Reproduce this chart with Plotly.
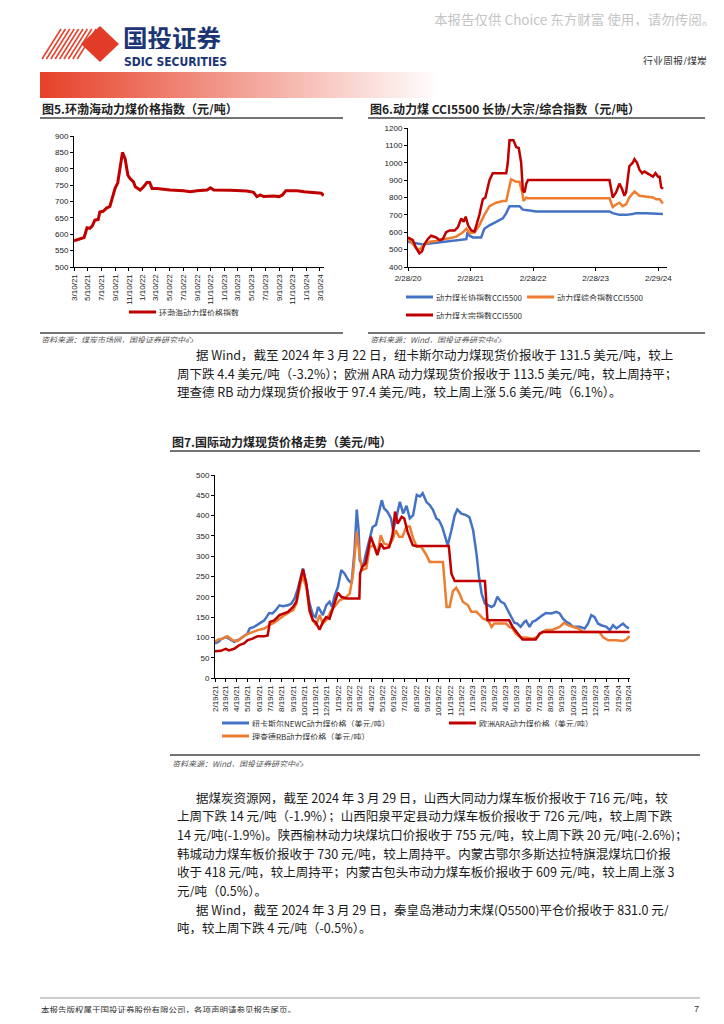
import plotly.graph_objects as go
from datetime import datetime

W, H = 724, 1024
OFF = 8  # page body margin of the browser

# ---------------- DATA ----------------
# Fig 5: Bohai-Rim thermal coal price index (yuan/t)
bohai_dates = ["2021-03-10", "2021-04-05", "2021-04-24", "2021-05-07", "2021-05-19", "2021-05-30",
               "2021-06-11", "2021-06-26", "2021-07-03", "2021-07-18", "2021-08-02", "2021-08-17",
               "2021-08-29", "2021-09-09", "2021-09-21", "2021-10-01", "2021-10-12", "2021-10-24",
               "2021-11-05", "2021-11-15", "2021-11-30", "2021-12-08", "2021-12-30", "2022-01-14",
               "2022-01-29", "2022-02-10", "2022-02-21", "2022-03-13", "2022-05-12", "2022-07-11",
               "2022-08-10", "2022-09-09", "2022-10-24", "2022-11-08", "2022-11-23", "2023-02-06",
               "2023-04-19", "2023-05-19", "2023-06-03", "2023-06-18", "2023-07-03", "2023-08-17",
               "2023-09-10", "2023-09-25", "2023-10-10", "2023-10-31", "2023-11-30", "2023-12-30",
               "2024-01-30", "2024-02-28", "2024-03-16", "2024-03-27"]
bohai_values = [580, 585, 590, 620, 618, 625, 643, 645, 668, 670, 680, 685,
                710, 740, 757, 800, 850, 830, 780, 770, 760, 745, 735, 745,
                758, 758, 740, 740, 735, 733, 730, 733, 735, 742, 735, 734,
                732, 728, 715, 720, 715, 717, 715, 720, 733, 733, 733, 730,
                728, 728, 725, 718]
bohai_ticks = ["3/10/21", "5/10/21", "7/10/21", "9/10/21", "11/10/21", "1/10/22", "3/10/22",
               "5/10/22", "7/10/22", "9/10/22", "11/10/22", "1/10/23", "3/10/23", "5/10/23",
               "7/10/23", "9/10/23", "11/10/23", "1/10/24", "3/10/24"]
bohai_name = "环渤海动力煤价格指数"

# Fig 6: CCI5500 long-term / composite / spot (yuan/t)
cci_long_dates = ["2020-02-28", "2020-04-15", "2020-05-24", "2020-07-03", "2020-08-10", "2020-09-18",
                  "2020-10-28", "2020-12-06", "2021-01-14", "2021-02-03", "2021-02-09", "2021-02-22",
                  "2021-03-13", "2021-04-01", "2021-04-30", "2021-05-19", "2021-06-18", "2021-07-27",
                  "2021-09-04", "2021-09-24", "2021-10-13", "2021-12-10", "2021-12-30", "2022-02-08",
                  "2022-03-17", "2023-05-20", "2023-06-08", "2023-07-17", "2023-08-25", "2023-10-03",
                  "2023-10-22", "2023-12-20", "2024-02-17", "2024-03-27"]
cci_long_values = [545, 535, 530, 535, 540, 545, 550, 555, 560, 560, 600, 580,
                   570, 570, 570, 620, 640, 660, 680, 710, 750, 750, 730, 725,
                   720, 720, 710, 700, 700, 705, 710, 710, 708, 705]
cci_comp_dates = ["2020-02-28", "2020-04-15", "2020-05-05", "2020-06-03", "2020-07-03", "2020-08-10",
                  "2020-09-18", "2020-10-28", "2020-12-06", "2021-01-14", "2021-02-03", "2021-02-22",
                  "2021-03-23", "2021-04-20", "2021-05-19", "2021-06-18", "2021-07-27", "2021-09-04",
                  "2021-09-24", "2021-10-13", "2021-10-22", "2021-11-21", "2021-12-10", "2021-12-26",
                  "2022-01-03", "2022-01-19", "2022-01-29", "2023-05-20", "2023-06-08", "2023-06-28",
                  "2023-07-17", "2023-08-05", "2023-08-25", "2023-09-13", "2023-10-13", "2023-11-11",
                  "2023-12-20", "2024-01-29", "2024-02-17", "2024-03-08", "2024-03-27"]
cci_comp_values = [565, 510, 500, 530, 545, 550, 560, 565, 575, 600, 620, 595,
                   600, 640, 700, 750, 770, 780, 780, 880, 905, 890, 890, 830,
                   780, 800, 795, 795, 745, 760, 770, 750, 760, 800, 835, 810,
                   805, 800, 790, 790, 765]
cci_spot_dates = ["2020-02-28", "2020-03-27", "2020-04-15", "2020-05-05", "2020-05-20", "2020-06-03",
                  "2020-06-22", "2020-07-12", "2020-08-10", "2020-08-30", "2020-09-18", "2020-10-08",
                  "2020-10-28", "2020-11-26", "2020-12-16", "2021-01-04", "2021-01-18", "2021-01-30",
                  "2021-02-13", "2021-03-03", "2021-03-23", "2021-04-05", "2021-04-20", "2021-05-10",
                  "2021-05-25", "2021-06-18", "2021-07-07", "2021-08-15", "2021-09-24", "2021-10-03",
                  "2021-10-13", "2021-11-05", "2021-11-21", "2021-12-06", "2021-12-20", "2021-12-30",
                  "2022-01-09", "2022-01-19", "2022-01-29", "2023-05-20", "2023-06-08", "2023-06-28",
                  "2023-07-17", "2023-08-01", "2023-08-15", "2023-08-25", "2023-09-13", "2023-10-03",
                  "2023-10-13", "2023-10-28", "2023-11-11", "2023-11-27", "2023-12-10", "2023-12-26",
                  "2024-01-09", "2024-01-29", "2024-02-13", "2024-02-28", "2024-03-08", "2024-03-17",
                  "2024-03-27"]
cci_spot_values = [570, 555, 510, 478, 490, 530, 560, 580, 570, 555, 560, 600,
                   610, 610, 630, 680, 660, 690, 640, 610, 605, 650, 700, 790,
                   800, 900, 940, 940, 940, 1000, 1130, 1130, 1090, 1085, 1000, 840,
                   830, 880, 900, 900, 800, 830, 880, 850, 810, 830, 980, 1000,
                   1020, 1000, 960, 940, 950, 940, 930, 920, 940, 920, 920, 860,
                   850]
cci_ticks = ["2/28/20", "2/28/21", "2/28/22", "2/28/23", "2/29/24"]
cci_names = ["动力煤长协指数CCI5500", "动力煤综合指数CCI5500", "动力煤大宗指数CCI5500"]

# Fig 7: international thermal coal spot prices (USD/t)
newc_dates = ["2021-02-19", "2021-02-28", "2021-03-07", "2021-03-20", "2021-03-29", "2021-04-12",
              "2021-04-26", "2021-05-09", "2021-05-18", "2021-05-24", "2021-06-05", "2021-06-19",
              "2021-07-03", "2021-07-16", "2021-07-25", "2021-08-03", "2021-08-13", "2021-08-22",
              "2021-09-05", "2021-09-14", "2021-09-23", "2021-10-02", "2021-10-16", "2021-10-25",
              "2021-11-03", "2021-11-12", "2021-11-19", "2021-11-26", "2021-12-05", "2021-12-09",
              "2021-12-18", "2021-12-27", "2022-01-03", "2022-01-09", "2022-01-19", "2022-01-28",
              "2022-02-06", "2022-02-16", "2022-02-25", "2022-03-05", "2022-03-11", "2022-03-16",
              "2022-03-19", "2022-03-28", "2022-04-04", "2022-04-13", "2022-04-23", "2022-05-02",
              "2022-05-11", "2022-05-18", "2022-05-24", "2022-06-02", "2022-06-12", "2022-06-18",
              "2022-06-27", "2022-07-06", "2022-07-15", "2022-07-24", "2022-08-02", "2022-08-11",
              "2022-08-21", "2022-08-30", "2022-09-06", "2022-09-16", "2022-09-25", "2022-10-04",
              "2022-10-13", "2022-10-20", "2022-10-29", "2022-11-07", "2022-11-13", "2022-11-23",
              "2022-12-02", "2022-12-09", "2022-12-20", "2023-01-02", "2023-01-11", "2023-01-21",
              "2023-01-30", "2023-02-06", "2023-02-13", "2023-02-22", "2023-03-03", "2023-03-12",
              "2023-03-19", "2023-03-28", "2023-04-06", "2023-04-16", "2023-04-25", "2023-05-04",
              "2023-05-13", "2023-05-21", "2023-05-30", "2023-06-09", "2023-06-14", "2023-06-23",
              "2023-07-01", "2023-07-10", "2023-07-20", "2023-07-29", "2023-08-07", "2023-08-21",
              "2023-09-04", "2023-09-13", "2023-09-22", "2023-10-01", "2023-10-10", "2023-10-19",
              "2023-11-06", "2023-11-20", "2023-11-29", "2023-12-08", "2023-12-17", "2023-12-26",
              "2024-01-04", "2024-01-18", "2024-01-27", "2024-02-05", "2024-02-14", "2024-02-24",
              "2024-03-03", "2024-03-12", "2024-03-19"]
newc_values = [85, 89, 95, 101, 97, 89, 95, 103, 109, 122, 126, 134,
               142, 160, 159, 167, 179, 177, 179, 183, 196, 220, 270, 229,
               183, 155, 150, 175, 163, 155, 179, 188, 175, 200, 225, 266,
               257, 241, 233, 315, 415, 364, 290, 274, 303, 336, 372, 377,
               414, 438, 418, 410, 393, 364, 397, 434, 405, 424, 393, 401,
               451, 447, 455, 434, 426, 414, 393, 389, 372, 348, 327, 364,
               401, 415, 405, 401, 396, 364, 307, 249, 208, 183, 179, 175,
               179, 200, 188, 183, 167, 150, 136, 134, 126, 138, 141, 126,
               138, 142, 150, 155, 160, 159, 163, 159, 146, 138, 134, 126,
               126, 122, 134, 155, 150, 134, 130, 126, 118, 130, 122, 130,
               134, 126, 122]
ara_dates = ["2021-02-19", "2021-03-07", "2021-03-20", "2021-03-29", "2021-04-12", "2021-04-26",
             "2021-05-09", "2021-05-18", "2021-06-01", "2021-06-15", "2021-07-03", "2021-07-12",
             "2021-07-18", "2021-07-30", "2021-08-13", "2021-08-27", "2021-09-05", "2021-09-19",
             "2021-09-28", "2021-10-07", "2021-10-16", "2021-10-25", "2021-11-03", "2021-11-12",
             "2021-11-19", "2021-11-26", "2021-11-30", "2021-12-09", "2021-12-18", "2021-12-27",
             "2022-01-05", "2022-01-19", "2022-01-28", "2022-02-11", "2022-03-18", "2022-03-20",
             "2022-03-26", "2022-04-04", "2022-04-18", "2022-04-27", "2022-05-06", "2022-05-15",
             "2022-05-24", "2022-06-07", "2022-06-16", "2022-06-23", "2022-06-30", "2022-07-11",
             "2022-07-18", "2022-07-27", "2022-08-10", "2022-08-19", "2022-11-16", "2022-11-23",
             "2022-12-02", "2023-02-22", "2023-03-01", "2023-04-29", "2023-05-08", "2023-05-21",
             "2023-06-04", "2023-07-10", "2023-07-20", "2023-07-29", "2024-03-21"]
ara_values = [66, 67, 72, 68, 72, 81, 85, 93, 97, 103, 103, 105,
              138, 142, 155, 160, 163, 175, 188, 233, 268, 233, 167, 142,
              138, 126, 119, 138, 150, 146, 171, 210, 200, 196, 196, 257,
              274, 282, 348, 323, 303, 331, 319, 322, 352, 410, 380, 397,
              393, 360, 327, 325, 325, 257, 239, 239, 142, 142, 126, 111,
              95, 95, 109, 113, 113]
rb_dates = ["2021-02-19", "2021-02-28", "2021-03-12", "2021-03-25", "2021-04-08", "2021-04-21",
            "2021-05-05", "2021-05-18", "2021-06-01", "2021-06-15", "2021-07-03", "2021-07-16",
            "2021-07-30", "2021-08-13", "2021-08-27", "2021-09-10", "2021-09-19", "2021-09-28",
            "2021-10-07", "2021-10-14", "2021-10-25", "2021-11-03", "2021-11-12", "2021-11-21",
            "2021-11-30", "2021-12-09", "2021-12-18", "2022-01-01", "2022-01-09", "2022-01-24",
            "2022-02-06", "2022-02-20", "2022-03-01", "2022-03-11", "2022-03-18", "2022-03-26",
            "2022-04-06", "2022-04-15", "2022-04-27", "2022-05-06", "2022-05-15", "2022-05-24",
            "2022-06-07", "2022-06-16", "2022-06-25", "2022-07-04", "2022-07-13", "2022-07-24",
            "2022-08-02", "2022-08-11", "2022-08-21", "2022-09-02", "2022-09-16", "2022-09-25",
            "2022-10-31", "2022-11-04", "2022-11-10", "2022-11-18", "2022-11-27", "2022-12-06",
            "2022-12-15", "2022-12-24", "2023-01-07", "2023-01-16", "2023-01-30", "2023-02-08",
            "2023-02-17", "2023-03-03", "2023-03-12", "2023-03-19", "2023-04-02", "2023-04-20",
            "2023-04-29", "2023-05-08", "2023-05-17", "2023-05-30", "2023-06-14", "2023-07-01",
            "2023-07-15", "2023-07-24", "2023-08-07", "2023-08-25", "2023-09-13", "2023-09-25",
            "2023-10-05", "2023-10-19", "2023-11-02", "2023-11-16", "2023-12-30", "2024-01-09",
            "2024-01-23", "2024-02-14", "2024-03-03", "2024-03-12", "2024-03-21"]
rb_values = [89, 95, 97, 103, 93, 91, 101, 108, 113, 118, 122, 130,
             136, 146, 155, 163, 167, 183, 224, 253, 224, 163, 142, 130,
             155, 134, 142, 167, 175, 192, 196, 208, 257, 360, 307, 266,
             270, 323, 327, 303, 352, 331, 327, 340, 364, 348, 348, 373,
             373, 344, 323, 323, 303, 286, 286, 241, 175, 175, 214, 222,
             208, 188, 179, 163, 163, 155, 146, 142, 126, 134, 134, 134,
             126, 122, 109, 100, 100, 97, 101, 111, 118, 119, 126, 136,
             130, 126, 122, 113, 113, 100, 93, 93, 91, 95, 103]
intl_ticks = ["2/19/21", "3/19/21", "4/19/21", "5/19/21", "6/19/21", "7/19/21", "8/19/21",
              "9/19/21", "10/19/21", "11/19/21", "12/19/21", "1/19/22", "2/19/22", "3/19/22",
              "4/19/22", "5/19/22", "6/19/22", "7/19/22", "8/19/22", "9/19/22", "10/19/22",
              "11/19/22", "12/19/22", "1/19/23", "2/19/23", "3/19/23", "4/19/23", "5/19/23",
              "6/19/23", "7/19/23", "8/19/23", "9/19/23", "10/19/23", "11/19/23", "12/19/23",
              "1/19/24", "2/19/24", "3/19/24"]
intl_names = ["纽卡斯尔NEWC动力煤价格（美元/吨）", "欧洲ARA动力煤价格（美元/吨）", "理查德RB动力煤价格（美元/吨）"]

para1 = ["据 Wind，截至 2024 年 3 月 22 日，纽卡斯尔动力煤现货价报收于 131.5 美元/吨，较上",
         "周下跌 4.4 美元/吨（-3.2%）；欧洲 ARA 动力煤现货价报收于 113.5 美元/吨，较上周持平；",
         "理查德 RB 动力煤现货价报收于 97.4 美元/吨，较上周上涨 5.6 美元/吨（6.1%）。"]
para2 = ["据煤炭资源网，截至 2024 年 3 月 29 日，山西大同动力煤车板价报收于 716 元/吨，较",
         "上周下跌 14 元/吨（-1.9%）；山西阳泉平定县动力煤车板价报收于 726 元/吨，较上周下跌",
         "14 元/吨(-1.9%)。陕西榆林动力块煤坑口价报收于 755 元/吨，较上周下跌 20 元/吨(-2.6%)；",
         "韩城动力煤车板价报收于 730 元/吨，较上周持平。内蒙古鄂尔多斯达拉特旗混煤坑口价报",
         "收于 418 元/吨，较上周持平；内蒙古包头市动力煤车板价报收于 609 元/吨，较上周上涨 3",
         "元/吨（0.5%）。",
         "据 Wind，截至 2024 年 3 月 29 日，秦皇岛港动力末煤(Q5500)平仓价报收于 831.0 元/",
         "吨，较上周下跌 4 元/吨（-0.5%）。"]

# ---------------- HELPERS ----------------
def px(x):
    return (x - OFF) / W

def py(y):
    return 1 - (y - OFF) / H

def tick_dates(labels):
    return [datetime.strptime(s, "%m/%d/%y") for s in labels]

CJK = "Noto Sans CJK SC"
LAT = "Liberation Sans, Arial"
BLUE, ORANGE, RED, DRED = "#4472C4", "#ED7D31", "#C00000", "#C00000"

fig = go.Figure()

# Fig 5 trace
fig.add_trace(go.Scatter(x=bohai_dates, y=bohai_values, mode="lines", name=bohai_name,
                         line=dict(color=DRED, width=3), xaxis="x", yaxis="y"))
# Fig 6 traces
fig.add_trace(go.Scatter(x=cci_long_dates, y=cci_long_values, mode="lines", name=cci_names[0],
                         line=dict(color=BLUE, width=2.5), xaxis="x2", yaxis="y2"))
fig.add_trace(go.Scatter(x=cci_comp_dates, y=cci_comp_values, mode="lines", name=cci_names[1],
                         line=dict(color=ORANGE, width=2.5), xaxis="x2", yaxis="y2"))
fig.add_trace(go.Scatter(x=cci_spot_dates, y=cci_spot_values, mode="lines", name=cci_names[2],
                         line=dict(color=RED, width=2.5), xaxis="x2", yaxis="y2"))
# Fig 7 traces
fig.add_trace(go.Scatter(x=newc_dates, y=newc_values, mode="lines", name=intl_names[0],
                         line=dict(color=BLUE, width=2.5), xaxis="x3", yaxis="y3"))
fig.add_trace(go.Scatter(x=rb_dates, y=rb_values, mode="lines", name=intl_names[2],
                         line=dict(color=ORANGE, width=2.5), xaxis="x3", yaxis="y3"))
fig.add_trace(go.Scatter(x=ara_dates, y=ara_values, mode="lines", name=intl_names[1],
                         line=dict(color=RED, width=2.5), xaxis="x3", yaxis="y3"))

tickfont = dict(family=LAT, size=8, color="#222")
axcommon = dict(showline=True, linecolor="#000", linewidth=1, ticks="outside", ticklen=3,
                tickcolor="#000", showgrid=False, zeroline=False, tickfont=tickfont,
                automargin=False)

fig.update_layout(
    width=W, height=H, margin=dict(l=0, r=0, t=0, b=0, pad=0, autoexpand=False),
    paper_bgcolor="white", plot_bgcolor="white", showlegend=False,
    xaxis=dict(domain=[px(74), px(324)], anchor="y", type="date",
               range=["2021-03-10", "2024-03-28"], tickvals=tick_dates(bohai_ticks),
               ticktext=bohai_ticks, tickangle=-90, **axcommon),
    yaxis=dict(domain=[py(267), py(136)], anchor="x", range=[500, 900], dtick=50, **axcommon),
    xaxis2=dict(domain=[px(408), px(667)], anchor="y2", type="date",
                range=["2020-02-28", "2024-04-20"], tickvals=tick_dates(cci_ticks),
                ticktext=cci_ticks, tickangle=0, **axcommon),
    yaxis2=dict(domain=[py(267), py(128)], anchor="x2", range=[400, 1200], dtick=100, **axcommon),
    xaxis3=dict(domain=[px(215), px(630)], anchor="y3", type="date",
                range=["2021-02-19", "2024-03-22"], tickvals=tick_dates(intl_ticks),
                ticktext=intl_ticks, tickangle=-90, **axcommon),
    yaxis3=dict(domain=[py(678), py(475)], anchor="x3", range=[0, 500], dtick=50, **axcommon),
)

shapes = []
ann = []

def hline(x0, x1, y, color="#444", width=1.5):
    shapes.append(dict(type="line", xref="paper", yref="paper", x0=px(x0), x1=px(x1),
                       y0=py(y), y1=py(y), line=dict(color=color, width=width)))

def text(x, y, s, size=12, color="#1a1a1a", bold=False, italic=False, family=CJK,
         xanchor="left", box=None):
    f = dict(family=family, size=size, color=color)
    if bold:
        f["weight"] = "bold"
    if italic:
        f["style"] = "italic"
    a = dict(x=px(x), y=py(y), xref="paper", yref="paper", text=s, showarrow=False,
             xanchor=xanchor, yanchor="middle", font=f, borderpad=0,
             height=box if box else round(size * 1.05))
    ann.append(a)

def legend_item(x, y, color, label, width=3):
    shapes.append(dict(type="line", xref="paper", yref="paper", x0=px(x), x1=px(x + 27),
                       y0=py(y), y1=py(y), line=dict(color=color, width=width)))
    text(x + 29, y, label, size=8, color="#333")

# ---- header ----
text(716, 19, "本报告仅供 Choice 东方财富 使用，请勿传阅。", size=13.5, color="#c4c4c4",
     xanchor="right")
for i in range(9):
    x0 = 42 + i * 4.4
    shapes.append(dict(type="line", xref="paper", yref="paper", x0=px(x0), x1=px(x0 + 19),
                       y0=py(59), y1=py(29), line=dict(color="#E2452F", width=1.6)))
shapes.append(dict(type="path", xref="paper", yref="paper", fillcolor="#E23B28",
                   line=dict(width=0),
                   path=f"M {px(81)},{py(44)} L {px(100)},{py(26)} L {px(119)},{py(44)} "
                        f"L {px(100)},{py(62)} Z"))
text(122, 37, "国投证券", size=24.5, color="#1B3575", bold=True, box=24)
text(123, 61.5, "SDIC SECURITIES", size=12, color="#1B3575", bold=True,
     family="DejaVu Sans Condensed, Liberation Sans, Arial", box=10)
text(708, 60, "行业周报/煤炭", size=10, color="#333", xanchor="right")
N = 100
for i in range(N):
    t = i / (N - 1)
    r = int(231 + (255 - 231) * t)
    g = int(66 + (255 - 66) * t)
    b = int(42 + (255 - 42) * t)
    shapes.append(dict(type="rect", xref="paper", yref="paper", x0=px(40 + i * 4),
                       x1=px(40 + i * 4 + 4.5), y0=py(98), y1=py(72),
                       fillcolor=f"rgb({r},{g},{b})", line=dict(width=0), layer="below"))

# ---- Fig 5 frame ----
text(41, 108, "图5.环渤海动力煤价格指数（元/吨）", size=12, color="#222", bold=True)
hline(40, 343, 118)
legend_item(129, 312, DRED, bohai_name)
hline(40, 343, 333)
text(40, 339, "资料来源：煤炭市场网，国投证券研究中心", size=8, color="#555", italic=True)

# ---- Fig 6 frame ----
text(369, 108, "图6.动力煤 CCI5500 长协/大宗/综合指数（元/吨）", size=12, color="#222", bold=True)
hline(368, 705, 118)
legend_item(406, 297, BLUE, cci_names[0])
legend_item(527, 297, ORANGE, cci_names[1])
legend_item(406, 315, RED, cci_names[2])
hline(368, 705, 333)
text(369, 339, "资料来源：Wind，国投证券研究中心", size=8, color="#555", italic=True)

# ---- paragraph 1 ----
ys = [354.5, 373, 391.5]
for k, line in enumerate(para1):
    text(195 if k == 0 else 176, ys[k], line, size=12.5)

# ---- Fig 7 frame ----
text(171, 441, "图7.国际动力煤现货价格走势（美元/吨）", size=12, color="#222", bold=True)
hline(170, 700, 451)
legend_item(222, 723, BLUE, intl_names[0])
legend_item(449, 723, RED, intl_names[1])
legend_item(222, 736, ORANGE, intl_names[2])
hline(170, 700, 755)
text(171, 763, "资料来源：Wind，国投证券研究中心", size=8, color="#555", italic=True)

# ---- paragraph 2 ----
for k, line in enumerate(para2):
    y = 797 + k * 18.7
    x = 195 if k in (0, 6) else 176
    text(x, y, line, size=12.5)

# ---- footer ----
hline(40, 700, 998, color="#999", width=1)
text(40, 1008, "本报告版权属于国投证券股份有限公司，各项声明请参见报告尾页。", size=8.5, color="#333")
text(700, 1008, "7", size=9, color="#333", xanchor="right", family=LAT)

fig.update_layout(shapes=shapes, annotations=ann)
fig.write_html("out.html")
